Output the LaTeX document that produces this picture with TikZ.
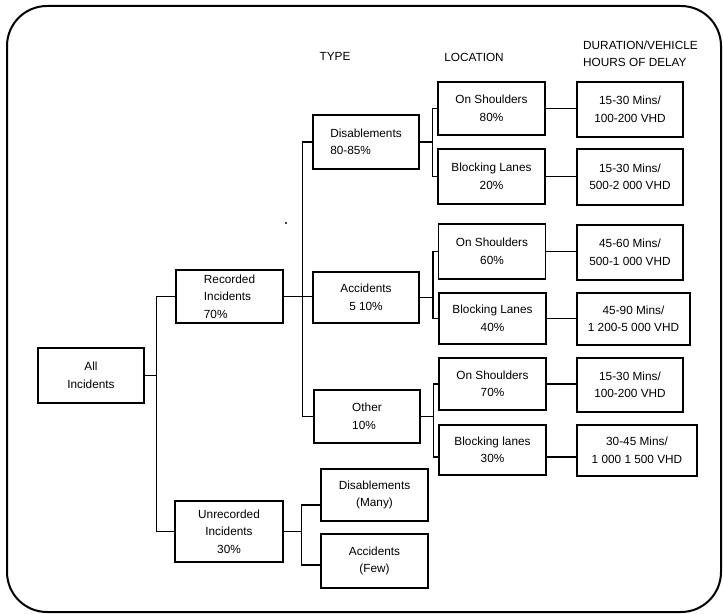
\documentclass[tikz,border=0pt]{standalone}
\usepackage{fontspec}
\setmainfont{Liberation Sans}
\begin{document}
\begin{tikzpicture}[x=1pt,y=-1pt,
  box/.style={draw, line width=1.4pt, inner sep=0pt, align=center,
    minimum width=106pt, minimum height=54pt, font=\fontsize{11.8}{17.5}\selectfont},
  lbox/.style={box, align=left},
  hdr/.style={inner sep=0pt, font=\fontsize{11.8}{17}\selectfont},
  conn/.style={line width=1.4pt}]
\useasboundingbox (0,0) rectangle (723,615);
\draw[line width=2pt, rounded corners=40pt] (7,6) rectangle (721,612);

% headers
\node[hdr] (hType) at (335,56) {TYPE};
\node[hdr] (hLoc) at (474,57) {LOCATION};
\node[hdr, anchor=west, align=left] (hDur) at (583,54) {DURATION/VEHICLE\\HOURS OF DELAY};

% level 1-2
\node[box, minimum width=106pt, minimum height=55pt] (all) at (91,375.5) {All\\Incidents};
\node[lbox, minimum width=107pt, minimum height=53pt] (rec) at (229.5,296.5) {Recorded\\Incidents\\70\%};
\node[box, minimum width=108pt, minimum height=61pt] (unrec) at (229,531.5) {Unrecorded\\Incidents\\30\%};

% type
\node[lbox, minimum height=54pt] (dis) at (366,142) {Disablements\\80-85\%};
\node[box, minimum height=51pt] (acc) at (366,297.5) {Accidents\\5 10\%};
\node[lbox, minimum height=53pt] (oth) at (367,416.5) {Other\\10\%};
\node[box, minimum width=107pt, minimum height=52pt] (many) at (374.5,495) {Disablements\\(Many)};
\node[box, minimum width=107pt, minimum height=54pt] (few) at (374.5,561) {Accidents\\(Few)};

% location
\node[box, minimum width=107pt, minimum height=53pt] (os1) at (491.5,108.5) {On Shoulders\\80\%};
\node[box, minimum width=107pt, minimum height=55pt] (bl1) at (491.5,176.5) {Blocking Lanes\\20\%};
\node[box, minimum width=107pt, minimum height=55pt] (os2) at (492,251.5) {On Shoulders\\60\%};
\node[box, minimum width=107pt, minimum height=51pt] (bl2) at (492.5,318.5) {Blocking Lanes\\40\%};
\node[box, minimum width=107pt, minimum height=52pt] (os3) at (492.5,384) {On Shoulders\\70\%};
\node[box, minimum width=107pt, minimum height=50pt] (bl3) at (492.5,450) {Blocking lanes\\30\%};

% duration
\node[box, minimum width=106pt, minimum height=55pt] (d1) at (630,109.5) {15-30 Mins/\\100-200 VHD};
\node[box, minimum width=106pt, minimum height=56pt] (d2) at (630,177) {15-30 Mins/\\500-2 000 VHD};
\node[box, minimum width=106pt, minimum height=55pt] (d3) at (630,252.5) {45-60 Mins/\\500-1 000 VHD};
\node[box, minimum width=113pt, minimum height=52pt] (d4) at (633.5,319) {45-90 Mins/\\1 200-5 000 VHD};
\node[box, minimum width=106pt, minimum height=54pt] (d5) at (630,385) {15-30 Mins/\\100-200 VHD};
\node[box, minimum width=120pt, minimum height=51pt] (d6) at (637,450.5) {30-45 Mins/\\1 000 1 500 VHD};

% connectors: all incidents
\draw[conn] (rec.west) -- ++(-19,0) |- (all.east);
\draw[conn] (unrec.west) -- ++(-18,0) |- (all.east);

% recorded -> type
\draw[conn] (dis.west) -- ++(-10,0) |- (oth.west);
\draw[conn] (rec.east) -- (rec.east -| acc.west);

% unrecorded -> type
\draw[conn] ([yshift=-10pt]many.west) -- ++(-19,0) coordinate (ub) |- ([yshift=-4pt]few.west);
\draw[conn] (unrec.east) -- (unrec.east -| ub);

% type -> location
\draw[conn] (os1.west) -- ++(-5,0) coordinate (b1) |- (bl1.west);
\draw[conn] (dis.east) -- (dis.east -| b1);
\draw[conn] (os2.west) -- ++(-5,0) coordinate (b2) |- (bl2.west);
\draw[conn] (acc.east) -- (acc.east -| b2);
\draw[conn] (os3.west) -- ++(-5,0) coordinate (b3) |- ([yshift=-7pt]bl3.west);
\draw[conn] (oth.east) -- (oth.east -| b3);

% location -> duration
\draw[conn] (os1.east) -- (os1.east -| d1.west);
\draw[conn] (bl1.east) -- (bl1.east -| d2.west);
\draw[conn] (os2.east) -- (os2.east -| d3.west);
\draw[conn] (bl2.east) -- (bl2.east -| d4.west);
\draw[conn] (os3.east) -- (os3.east -| d5.west);
\draw[conn] ([yshift=-7pt]bl3.east) -- ([yshift=-7pt]bl3.east -| d6.west);

% stray mark
\fill (286,223) circle (1.1pt);
\end{tikzpicture}
\end{document}
